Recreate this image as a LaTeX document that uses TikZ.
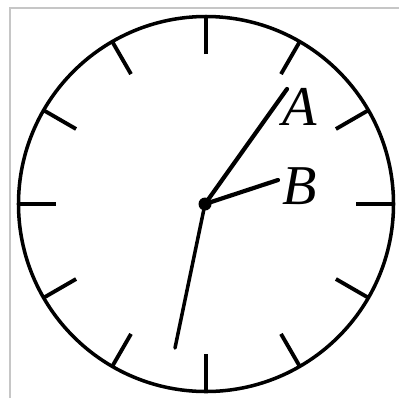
\documentclass[tikz,border=0pt]{standalone}
\usepackage{fontspec}
\setmainfont{Liberation Serif}
\usepackage{tikz}
\usetikzlibrary{positioning, calc}

\begin{document}
\begin{tikzpicture}[
    hand/.style={line width=1.2pt, line cap=round},
    tickmark/.style={line width=1.1pt},
    lbl/.style={font=\fontsize{16}{18}\selectfont\itshape, inner sep=0pt}
]
\useasboundingbox (-2.05,-1.94) rectangle (1.94,2.04);
% Frame
\draw[gray!45, line width=0.5pt] (-1.95,-1.94) -- (-1.95,1.96) -- (1.94,1.96);
% Face
\draw[line width=1.0pt] (0.01,0) circle (1.875);
% Ticks
\foreach \a in {0,30,...,330} {
    \draw[tickmark] ($(0.01,0)+(\a:1.50)$) -- ($(0.01,0)+(\a:1.875)$);
}
% Hands
\node[circle, fill=black, inner sep=0pt, minimum size=0.13cm] (o) at (0,0) {};
\coordinate (a) at (0.82,1.15);
\coordinate (b) at (0.73,0.24);
\coordinate (c) at (-0.30,-1.44);
\draw[hand] (o.center) -- (a);
\draw[hand] (o.center) -- (b);
\draw[hand, line width=1.0pt] (o.center) -- (c);
% Labels
\node[lbl] (la) at (0.95,0.97) {A};
\node[lbl] (lb) at (0.95,0.18) {B};
\end{tikzpicture}
\end{document}
